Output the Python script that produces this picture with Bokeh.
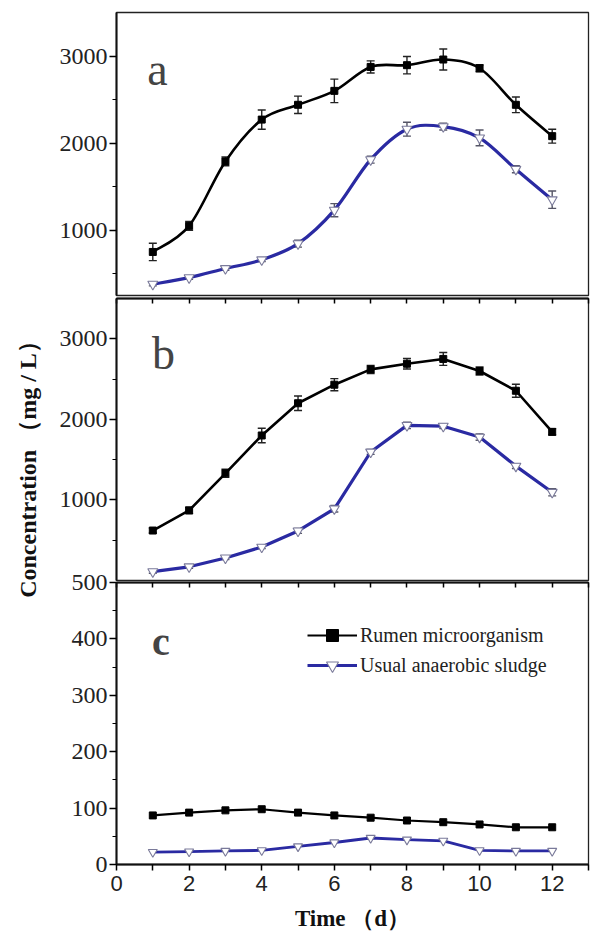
import numpy as np
from bokeh.plotting import figure
from bokeh.models import (Range1d, FixedTicker, LinearAxis, Whisker, TeeHead,
                          ColumnDataSource, Label, Legend, LegendItem)
from bokeh.layouts import column, row
from bokeh.embed import file_html
from bokeh.resources import INLINE

# ---------------- data ----------------
days = [1, 2, 3, 4, 5, 6, 7, 8, 9, 10, 11, 12]

a_rumen = [750, 1050, 1790, 2270, 2440, 2600, 2875, 2895, 2960, 2860, 2440, 2080]
a_rumen_err = [100, 50, 50, 110, 100, 135, 70, 100, 120, 40, 90, 80]
a_sludge = [380, 455, 560, 660, 845, 1230, 1810, 2160, 2190, 2060, 1700, 1350]
a_sludge_err = [20, 20, 20, 20, 40, 75, 40, 80, 40, 90, 40, 100]

b_rumen = [620, 870, 1330, 1800, 2200, 2430, 2620, 2690, 2750, 2600, 2355, 1845]
b_rumen_err = [30, 40, 50, 90, 90, 75, 50, 65, 80, 50, 80, 40]
b_sludge = [110, 170, 280, 415, 615, 890, 1595, 1925, 1915, 1780, 1420, 1095]
b_sludge_err = [20, 20, 20, 20, 30, 40, 30, 40, 30, 40, 30, 45]

c_rumen = [87, 92, 96, 98, 92, 87, 83, 78, 75, 71, 66, 66]
c_sludge = [22, 23, 24, 25, 32, 39, 47, 44, 42, 25, 24, 24]

series_names = ["Rumen microorganism", "Usual anaerobic sludge"]
panel_letters = ["a", "b", "c"]
x_ticks = list(range(0, 14))
x_tick_labels = {t: (str(t) if t % 2 == 0 and t <= 12 else "") for t in x_ticks}

SERIF = "Liberation Serif"
SANS = "Liberation Sans"
BLACK = "#000000"
BLUE = "#2a2aa2"
TRI_EDGE = "#7a7a9a"

FW = 472   # frame width


def style_left(p, ticks, minor):
    ax = p.yaxis[0]
    ax.ticker = FixedTicker(ticks=ticks, minor_ticks=minor)
    ax.axis_line_width = 2
    ax.axis_line_color = "#111111"
    ax.major_tick_out = 7
    ax.major_tick_in = 0
    ax.minor_tick_out = 4
    ax.minor_tick_in = 0
    ax.major_tick_line_width = 1.5
    ax.minor_tick_line_width = 1.2
    ax.major_label_text_font = SERIF
    ax.major_label_text_font_size = "24px"
    ax.major_label_text_color = "#222222"
    ax.major_label_standoff = 2


def top_ticks(p):
    ax = LinearAxis(ticker=FixedTicker(ticks=x_ticks, minor_ticks=[]),
                    major_label_text_font_size="1px", major_label_standoff=0,
                    major_label_text_color=None,
                    major_tick_in=5, major_tick_out=0, minor_tick_in=0,
                    minor_tick_out=0, axis_line_width=2, axis_line_color="#111111",
                    major_tick_line_width=1.5)
    p.add_layout(ax, "above")


def make_panel(yr, ticks, minor, mb_top, mb_bottom, frame_h):
    p = figure(frame_width=FW, frame_height=frame_h,
               x_range=Range1d(0, 13), y_range=Range1d(*yr),
               output_backend="svg", toolbar_location=None,
               x_axis_location=None, y_axis_location="left",
               min_border_left=68, min_border_right=2,
               min_border_top=mb_top, min_border_bottom=mb_bottom)
    p.grid.visible = False
    p.outline_line_color = "#222222"
    p.outline_line_width = 1.3
    p.background_fill_color = "white"
    style_left(p, ticks, minor)
    return p


def bezier_parts(xs, ys):
    n = len(xs)
    d = dict(x0=[], y0=[], x1=[], y1=[], cx0=[], cy0=[], cx1=[], cy1=[])
    for i in range(n - 1):
        xm, ym = (xs[i - 1], ys[i - 1]) if i > 0 else (xs[i], ys[i])
        xq, yq = (xs[i + 2], ys[i + 2]) if i + 2 < n else (xs[i + 1], ys[i + 1])
        d["x0"].append(xs[i]); d["y0"].append(ys[i])
        d["x1"].append(xs[i + 1]); d["y1"].append(ys[i + 1])
        d["cx0"].append(xs[i] + (xs[i + 1] - xm) / 6.0)
        d["cy0"].append(ys[i] + (ys[i + 1] - ym) / 6.0)
        d["cx1"].append(xs[i + 1] - (xq - xs[i]) / 6.0)
        d["cy1"].append(ys[i + 1] - (yq - ys[i]) / 6.0)
    return d


def errbars(p, ys, errs, color):
    src = ColumnDataSource(dict(x=days,
                                upper=[y + e for y, e in zip(ys, errs)],
                                lower=[y - e for y, e in zip(ys, errs)]))
    w = Whisker(source=src, base="x", upper="upper", lower="lower",
                dimension="height", line_color=color, line_width=1.4,
                upper_head=TeeHead(size=8, line_color=color, line_width=1.4),
                lower_head=TeeHead(size=8, line_color=color, line_width=1.4))
    p.add_layout(w)


def add_series(p, rumen, sludge, rerr, serr, smooth, msize_sq, msize_tri, lw):
    rends = []
    for ys, color, err in ((rumen, BLACK, rerr), (sludge, BLUE, serr)):
        if smooth:
            src = ColumnDataSource(bezier_parts(days, ys))
            ln = p.bezier(x0="x0", y0="y0", x1="x1", y1="y1", cx0="cx0", cy0="cy0",
                          cx1="cx1", cy1="cy1", source=src, line_color=color,
                          line_width=lw if color == BLACK else lw + 0.6)
        else:
            ln = p.line(days, ys, line_color=color,
                        line_width=lw if color == BLACK else lw + 0.6)
        if err is not None:
            errbars(p, ys, err, "#222222" if color == BLACK else "#555566")
        rends.append(ln)
    sq = p.scatter(days, rumen, marker="square", size=msize_sq, fill_color=BLACK,
                   line_color=BLACK)
    tri = p.scatter(days, sludge, marker="inverted_triangle", size=msize_tri,
                    fill_color="white", line_color=TRI_EDGE, line_width=1.1)
    return rends[0], sq, rends[1], tri


# ---------------- panel a ----------------
pa = make_panel((250, 3500), [1000, 2000, 3000], [500, 1500, 2500], 12, 2, 283)
add_series(pa, a_rumen, a_sludge, a_rumen_err, a_sludge_err, True, 7, 10, 2.6)
pa.add_layout(Label(x=0.85, y=2850, text=panel_letters[0], text_font=SERIF,
                    text_font_size="46px", text_baseline="alphabetic"))

# ---------------- panel b ----------------
pb = make_panel((0, 3500), [1000, 2000, 3000], [500, 1500, 2500], 1, 1, 282)
top_ticks(pb)
add_series(pb, b_rumen, b_sludge, b_rumen_err, b_sludge_err, False, 7, 10, 2.6)
pb.add_layout(Label(x=0.98, y=2820, text=panel_letters[1], text_font=SERIF,
                    text_font_size="46px", text_baseline="alphabetic"))

# ---------------- panel c ----------------
pc = make_panel((0, 500), [0, 100, 200, 300, 400, 500],
                [50, 150, 250, 350, 450], 12, 60, 282)
pc.border_fill_color = None
pc.styles = {"margin-top": "-11px"}
top_ticks(pc)
bx = LinearAxis(ticker=FixedTicker(ticks=x_ticks, minor_ticks=[]),
                major_label_overrides=x_tick_labels,
                major_tick_out=6, major_tick_in=0, minor_tick_in=0, minor_tick_out=0,
                axis_line_width=2, axis_line_color="#111111", major_tick_line_width=1.5,
                major_label_text_font=SANS, major_label_text_font_size="22px",
                major_label_text_color="#222222", major_label_standoff=5,
                axis_label="Time （d）", axis_label_text_font=SERIF,
                axis_label_text_font_style="bold", axis_label_text_font_size="23px",
                axis_label_standoff=12, axis_label_text_color="#111111")
pc.add_layout(bx, "below")
r_line, r_sq, s_line, s_tri = add_series(pc, c_rumen, c_sludge, None, None,
                                         False, 7, 9, 2.2)
pc.add_layout(Label(x=0.98, y=395, text=panel_letters[2], text_font=SERIF,
                    text_font_style="bold", text_font_size="40px",
                    text_baseline="alphabetic"))
legend = Legend(items=[LegendItem(label=series_names[0], renderers=[r_line, r_sq]),
                       LegendItem(label=series_names[1], renderers=[s_line, s_tri])],
                location=(191, 184), glyph_width=50, glyph_height=30,
                label_height=30, label_standoff=3, spacing=-7, padding=0, margin=0,
                border_line_color=None, background_fill_alpha=0,
                label_text_font=SERIF, label_text_font_size="20px",
                label_text_color="#222222")
pc.add_layout(legend)

# ---------------- y title ----------------
lf = figure(width=48, height=926, output_backend="svg", toolbar_location=None,
            x_axis_location=None, y_axis_location=None, min_border=0,
            outline_line_color=None, x_range=Range1d(0, 1), y_range=Range1d(0, 1))
lf.grid.visible = False
lf.add_layout(Label(x=27, y=463, x_units="screen", y_units="screen",
                    text="Concentration （mg / L）", angle=np.pi / 2,
                    text_align="center", text_baseline="middle", text_font=SERIF,
                    text_font_style="bold", text_font_size="24px",
                    text_color="#111111"))

layout = row(lf, column(pa, pb, pc))
open("out.html", "w").write(file_html(layout, INLINE))
